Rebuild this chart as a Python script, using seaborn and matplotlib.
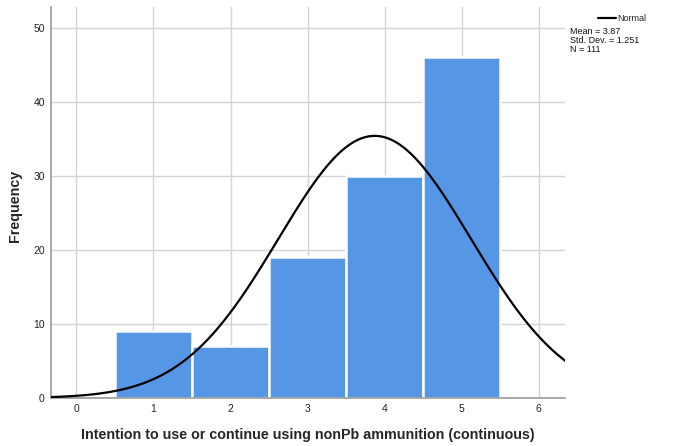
import numpy as np
import pandas as pd
import matplotlib
matplotlib.use("Agg")
import matplotlib.pyplot as plt
import seaborn as sns
from matplotlib.lines import Line2D

# Response scores and how many respondents gave each one
scores = [1, 2, 3, 4, 5]
frequencies = [9, 7, 19, 30, 46]

# Summary statistics shown beside the plot
mean_value = 3.87
std_dev = 1.251
n_total = 111

x_ticks = [0, 1, 2, 3, 4, 5, 6]
y_ticks = [0, 10, 20, 30, 40, 50]

sns.set_theme(style="white")
plt.rcParams["font.family"] = ["Liberation Sans", "DejaVu Sans"]

fig = plt.figure(figsize=(6.78, 4.46), dpi=100)
ax = fig.add_axes([51 / 678, 48 / 446, 514 / 678, 391 / 446])

df = pd.DataFrame({"score": scores, "count": frequencies})
sns.histplot(data=df, x="score", weights="count", discrete=True, ax=ax,
             color="#5596e5", alpha=1.0, edgecolor="white", linewidth=1.8,
             zorder=2)

# Fitted normal curve scaled to counts (bin width 1)
xs = np.linspace(-0.4, 6.4, 400)
ys = n_total / (std_dev * np.sqrt(2 * np.pi)) * np.exp(-0.5 * ((xs - mean_value) / std_dev) ** 2)
sns.lineplot(x=xs, y=ys, ax=ax, color="black", linewidth=1.6, zorder=3)

ax.set_xlim(-0.33, 6.34)
ax.set_ylim(0, 52.8)
ax.set_xticks(x_ticks)
ax.set_yticks(y_ticks)
ax.tick_params(axis="both", labelsize=7.5, colors="#222222", length=0, pad=4.5)
ax.grid(True, color="#d4d4d4", linewidth=1.0, zorder=0)
ax.set_axisbelow(True)

for side in ["top", "right"]:
    ax.spines[side].set_visible(False)
ax.spines["left"].set_color("#9a9a9a")
ax.spines["bottom"].set_color("#9a9a9a")
ax.spines["left"].set_linewidth(1.2)
ax.spines["bottom"].set_linewidth(1.2)

ax.set_xlabel("Intention to use or continue using nonPb ammunition (continuous)",
              fontsize=10.3, fontweight="bold")
ax.set_ylabel("Frequency", fontsize=10.3, fontweight="bold")
ax.xaxis.set_label_coords(0.5, -0.078)
ax.yaxis.set_label_coords(-0.056, 0.49)

# Legend and statistics to the right of the plot area
handle = Line2D([0], [0], color="black", linewidth=1.6)
fig.legend([handle], ["Normal"], loc="upper left", bbox_to_anchor=(598 / 678, 1 - 14 / 446),
           frameon=False, fontsize=6.5, handlelength=2.0, handletextpad=0.15,
           borderpad=0, borderaxespad=0)
fig.text(570 / 678, 1 - 27 / 446,
         f"Mean = {mean_value:.2f}\nStd. Dev. = {std_dev:.3f}\nN = {n_total}",
         fontsize=6.5, va="top", ha="left", linespacing=1.0, color="#111111")

fig.savefig("out.png", dpi=100)
